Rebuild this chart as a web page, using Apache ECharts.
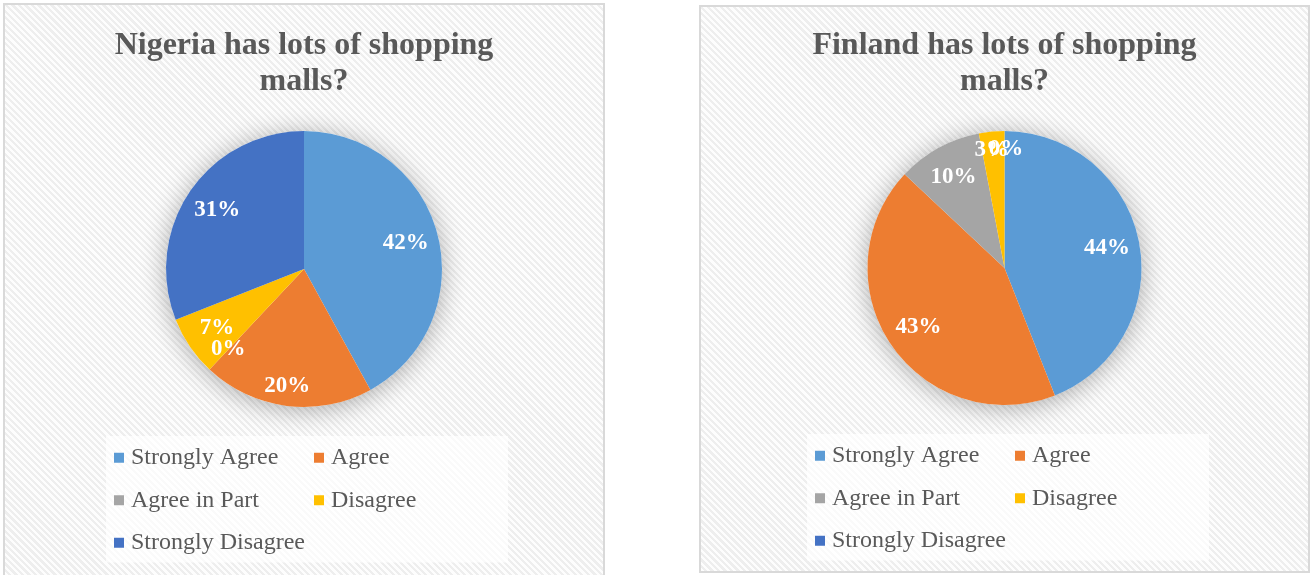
<!DOCTYPE html>
<html>
<head>
<meta charset="utf-8">
<script src="https://cdn.jsdelivr.net/npm/echarts@6/dist/echarts.min.js"></script>
<style>
  html, body { margin: 0; padding: 0; background: #ffffff; width: 1314px; height: 575px; overflow: hidden; }
  .panel {
    position: absolute; box-sizing: border-box; border: 2px solid #d9d9d9;
    background: repeating-linear-gradient(45deg, #fdfdfd 0px, #fdfdfd 2.4px, #eeeeee 2.4px, #eeeeee 4.6px);
  }
  #p1 { left: 3px; top: 3px; width: 602px; height: 600px; }
  #p2 { left: 699px; top: 5px; width: 611px; height: 568px; }
  .chart { position: absolute; top: 0; height: 575px; }
  #c1 { left: 0px; width: 608px; }
  #c2 { left: 700px; width: 609px; }
</style>
</head>
<body>
<div class="panel" id="p1"></div>
<div class="panel" id="p2"></div>
<div class="chart" id="c1"></div>
<div class="chart" id="c2"></div>
<script>
// ---- data ----
const categories = ['Strongly Agree', 'Agree', 'Agree in Part', 'Disagree', 'Strongly Disagree'];
const nigeriaValues = [42, 20, 0, 7, 31];
const finlandValues = [44, 43, 10, 3, 0];
const nigeriaTitle = 'Nigeria has lots of shopping\nmalls?';
const finlandTitle = 'Finland has lots of shopping\nmalls?';

// ---- styles ----
const colors = ['#5B9BD5', '#ED7D31', '#A5A5A5', '#FFC000', '#4472C4'];
const FONT = "'Liberation Serif', 'Times New Roman', serif";
// label nudges (style only), keyed by category index
const nigeriaNudge = { 1: [-4, 13], 2: [-4, 3] };
const finlandNudge = { 3: [-2, -14], 4: [2, -14] };

function buildOption(title, values, center, R, legendPos, nudge) {
  const total = values.reduce((a, b) => a + b, 0);
  const mainData = categories.map((c, i) => ({ name: c, value: values[i], itemStyle: { color: colors[i] } }));
  const labelData = categories.map((c, i) => ({
    name: c, value: values[i],
    itemStyle: { color: 'rgba(0,0,0,0)' },
    label: nudge[i] ? { offset: nudge[i] } : undefined
  }));
  return {
    animation: false,
    title: {
      text: title, left: 'center', top: 28, padding: 0,
      textStyle: { fontFamily: FONT, fontSize: 32, fontWeight: 'bold', color: '#595959', lineHeight: 36 }
    },
    legend: {
      data: categories,
      left: legendPos[0], top: legendPos[1], width: 400,
      orient: 'horizontal',
      padding: [6, 5, 4, 8],
      backgroundColor: 'rgba(255,255,255,0.72)',
      icon: 'rect', itemWidth: 10, itemHeight: 10, itemGap: 11,
      selectedMode: false,
      textStyle: { fontFamily: FONT, fontSize: 24, color: '#595959', width: 172, overflow: 'none', lineHeight: 31.5, padding: [0, 0, 0, 2] }
    },
    series: [
      {
        type: 'pie', silent: true, center: center, radius: [0, R],
        data: [{ value: 1, name: '' }],
        itemStyle: { color: '#ffffff', shadowBlur: 26, shadowColor: 'rgba(0,0,0,0.32)', shadowOffsetY: 3 },
        label: { show: false }, labelLine: { show: false }, emphasis: { disabled: true }
      },
      {
        type: 'pie', silent: true, center: center, radius: [0, R], startAngle: 90, clockwise: true,
        data: mainData,
        itemStyle: { borderWidth: 0 },
        label: { show: false }, labelLine: { show: false }, emphasis: { disabled: true }
      },
      {
        type: 'pie', silent: true, center: center, radius: [Math.round(R * 0.48), R], startAngle: 90, clockwise: true,
        minAngle: 0.5, minShowLabelAngle: 0, avoidLabelOverlap: false,
        labelLayout: { hideOverlap: false },
        data: labelData,
        label: {
          show: true, position: 'inside',
          formatter: p => Math.round(p.value / total * 100) + '%',
          fontFamily: FONT, fontSize: 23, fontWeight: 'bold', color: '#ffffff'
        },
        labelLine: { show: false }, emphasis: { disabled: true }
      }
    ]
  };
}

const c1 = echarts.init(document.getElementById('c1'), null, { renderer: 'canvas' });
c1.setOption(buildOption(nigeriaTitle, nigeriaValues, [304, 269], 138, [106, 436], nigeriaNudge));
const c2 = echarts.init(document.getElementById('c2'), null, { renderer: 'canvas' });
c2.setOption(buildOption(finlandTitle, finlandValues, [304.5, 268], 137, [107, 434], finlandNudge));
</script>
</body>
</html>
